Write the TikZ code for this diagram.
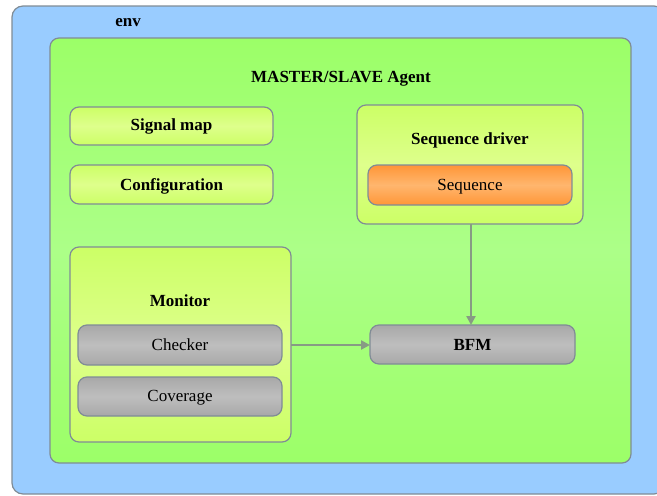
\documentclass[tikz,border=0pt]{standalone}
\usepackage{fontspec}
\setmainfont{Liberation Serif}
\usetikzlibrary{arrows.meta}

\definecolor{edgegray}{RGB}{128,140,150}
\definecolor{envblue}{RGB}{153,204,255}
\definecolor{agentgreen}{RGB}{156,255,104}
\definecolor{agentlight}{RGB}{172,255,136}
\definecolor{boxyellow}{RGB}{204,255,102}
\definecolor{boxlight}{RGB}{222,255,140}
\definecolor{boxgray}{RGB}{168,168,168}
\definecolor{graylight}{RGB}{190,190,190}
\definecolor{boxorange}{RGB}{255,150,55}
\definecolor{orangelight}{RGB}{255,182,110}
\definecolor{flowgray}{RGB}{135,155,132}

\tikzset{
  frame/.style={draw=edgegray, line width=1.2pt, rounded corners=9pt,
    inner sep=0pt, outer sep=0pt},
  envbox/.style={frame, fill=envblue, rounded corners=11pt},
  agentbox/.style={frame, top color=agentgreen, bottom color=agentgreen,
    middle color=agentlight},
  ybox/.style={frame, top color=boxyellow, bottom color=boxyellow,
    middle color=boxlight},
  gbox/.style={frame, top color=boxgray, bottom color=boxgray,
    middle color=graylight},
  obox/.style={frame, top color=boxorange, bottom color=boxorange,
    middle color=orangelight},
  title/.style={font=\fontsize{17}{20}\selectfont\bfseries, inner sep=0pt, anchor=base},
  plain/.style={font=\fontsize{17}{20}\selectfont, inner sep=0pt, anchor=base},
  flow/.style={draw=flowgray, line width=2.6pt,
    -{Triangle[length=9pt,width=9pt]}},
}

\begin{document}
\begin{tikzpicture}[x=1pt, y=-1pt]
  \useasboundingbox (0,0) rectangle (657,496);
  \begin{scope}
    \clip (0,0) rectangle (657,496);
    % outer environment
    \node[envbox, minimum width=653pt, minimum height=488pt] (env) at (338.5,250) {};
  \end{scope}
  \node[title] (envlabel) at (128,26.7) {env};

  % agent container
  \node[agentbox, minimum width=581pt, minimum height=425pt] (agent) at (340.5,250.5) {};
  \node[title] (agentlabel) at (341,82.5) {MASTER/SLAVE Agent};

  % left column
  \node[ybox, minimum width=203pt, minimum height=38pt] (sigmap) at (171.5,126) {};
  \node[title] (sigmaplabel) at (171.5,130.7) {Signal map};
  \node[ybox, minimum width=203pt, minimum height=39pt] (config) at (171.5,184.5) {};
  \node[title] (configlabel) at (171.5,190.5) {Configuration};

  % sequence driver
  \node[ybox, minimum width=226pt, minimum height=119pt] (seqdrv) at (470,164.5) {};
  \node[title] (seqdrvlabel) at (470,144.3) {Sequence driver};
  \node[obox, minimum width=204pt, minimum height=40pt] (seq) at (470,185) {};
  \node[plain] (seqlabel) at (470,190) {Sequence};

  % monitor
  \node[ybox, minimum width=221pt, minimum height=195pt] (monitor) at (180.5,344.5) {};
  \node[title] (monitorlabel) at (180,306) {Monitor};
  \node[gbox, minimum width=204pt, minimum height=40pt] (checker) at (180,345) {};
  \node[plain] (checkerlabel) at (180,350) {Checker};
  \node[gbox, minimum width=204pt, minimum height=39pt] (coverage) at (180,396.5) {};
  \node[plain] (coveragelabel) at (180,401.7) {Coverage};

  % bus functional model
  \node[gbox, minimum width=205pt, minimum height=39pt] (bfm) at (472.5,344.5) {};
  \node[title] (bfmlabel) at (472.5,350) {BFM};

  % connections
  \coordinate (drvout) at ([xshift=1pt]seqdrv.south);
  \draw[flow] (drvout) -- (drvout |- bfm.north);
  \draw[flow] (monitor.east |- checker.center) -- (bfm.west |- checker.center);
\end{tikzpicture}
\end{document}
